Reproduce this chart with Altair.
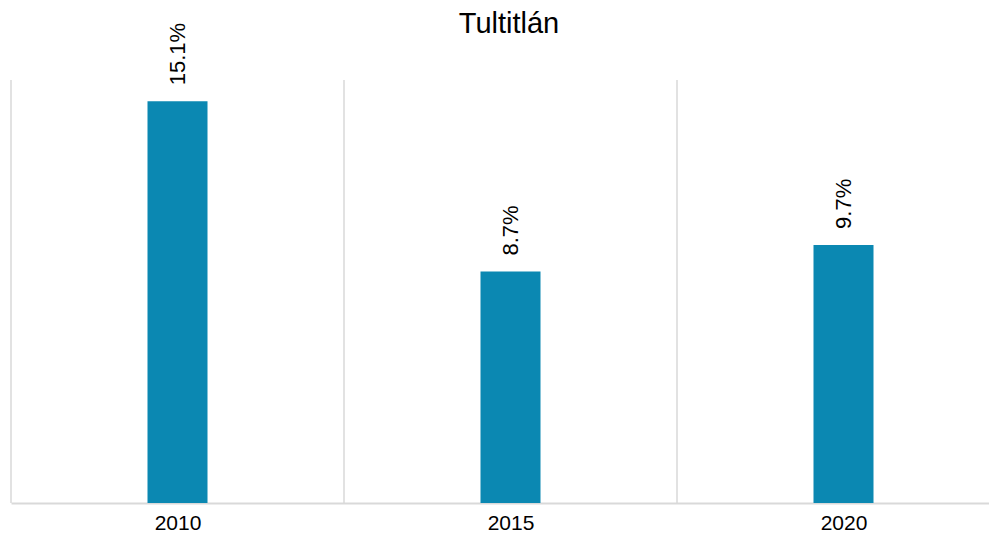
import altair as alt
import pandas as pd

years = [2010, 2015, 2020]
values = [15.1, 8.7, 9.7]
labels = ["15.1%", "8.7%", "9.7%"]
# category boundaries (half-way between the 5-year steps)
bounds = [y - 2.5 for y in years]

df = pd.DataFrame({"year": years, "value": values, "label": labels})
df_b = pd.DataFrame({"year": bounds})

FONT = "Liberation Sans"
GRID = "#d9d9d9"

PLOT_W = 978  # keeps the page from overflowing; each category band stays 333 px wide
xscale = alt.Scale(domain=[2007.5, 2007.5 + 15 * PLOT_W / 999], nice=False, zero=False, padding=0)

xaxis = alt.Axis(
    title=None,
    values=years,
    format="d",
    labelAngle=0,
    labelFont=FONT,
    labelFontSize=21,
    labelColor="#000000",
    labelBaseline="alphabetic",
    labelPadding=26,
    ticks=False,
    tickSize=0,
    grid=False,
    domainColor=GRID,
    domainWidth=2,
)
x = alt.X("year:Q", scale=xscale, axis=xaxis)
y = alt.Y("value:Q", scale=alt.Scale(domain=[0, 15.9], nice=False, zero=True), axis=None)

rules = alt.Chart(df_b).mark_rule(color=GRID, strokeWidth=1.5).encode(x=x)

bars = alt.Chart(df).mark_bar(size=60, color="#0B88B2").encode(x=x, y=y)

text = alt.Chart(df).mark_text(
    angle=270,
    align="left",
    baseline="middle",
    dx=16,
    font=FONT,
    fontSize=22,
    color="#000000",
    clip=False,
).encode(x=x, y=y, text="label:N")

chart = (
    alt.layer(rules, bars, text)
    .properties(
        width=PLOT_W,
        height=423,
        title=alt.TitleParams(
            "Tultitlán",
            font=FONT,
            fontSize=29,
            fontWeight="normal",
            color="#000000",
            anchor="middle",
            baseline="alphabetic",
            offset=-39,
            dx=9,
        ),
        autosize=alt.AutoSizeParams(type="none"),
        padding={"left": 3, "top": 72, "right": 0, "bottom": 31},
    )
    .configure_view(stroke=None)
)

chart.save("out.html", embed_options={"renderer": "svg", "actions": False})
